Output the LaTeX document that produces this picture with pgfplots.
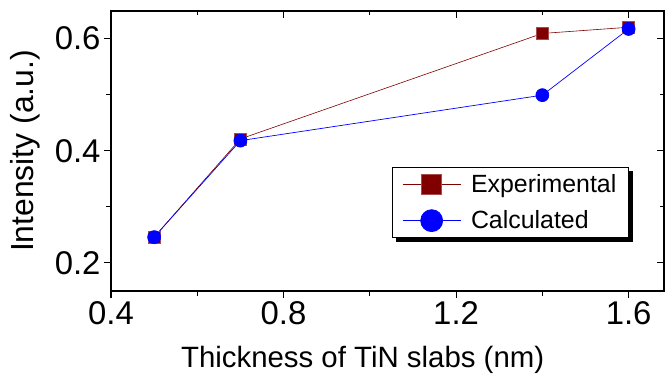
\documentclass[border=0pt]{standalone}
\usepackage{pgfplots}
\pgfplotsset{compat=1.18}
\usepackage{fontspec}
\setmainfont{Liberation Sans}
\usetikzlibrary{backgrounds}
\definecolor{expc}{RGB}{128,0,0}
\definecolor{calcc}{RGB}{0,0,255}
\begin{document}
\begin{tikzpicture}
\pgfplotsset{
  common/.style={
    scale only axis, width=553bp, height=280bp,
    at={(0,0)}, anchor=south west,
    xmin=0.4, xmax=1.682, ymin=0.15, ymax=0.649,
    xtick={0.4,0.8,1.2,1.6}, minor xtick={0.6,1.0,1.4},
    ytick={0.2,0.4,0.6}, minor ytick={0.3,0.5},
    axis line style={line width=1.1bp},
    major tick length=7bp, minor tick length=4.5bp,
    every tick/.style={line width=1.1bp, black},
    every minor tick/.style={line width=1.1bp, black},
  }
}
\begin{axis}[common,
  xtick pos=left, ytick pos=left, tick align=outside,
  /pgf/number format/assume math mode=true,
  /pgf/number format/fixed, /pgf/number format/precision=1, /pgf/number format/fixed zerofill,
  ticklabel style={font=\fontsize{33}{38}\selectfont},
  xlabel={Thickness of TiN slabs (nm)},
  ylabel={Intensity (a.u.)},
  xlabel style={font=\fontsize{29.5}{35}\selectfont, at={(axis description cs:0.455,-0.245)}, anchor=center},
  ylabel style={font=\fontsize{32}{38}\selectfont, at={(axis description cs:-0.155,0.5)}, anchor=center, rotate=0},
  legend cell align=left,
  legend style={at={(rel axis cs:0.508,0.443)}, anchor=north west, name=leg,
    draw=black, line width=0.8bp, fill=white,
    font=\fontsize{25}{28}\selectfont,
    inner xsep=10bp, inner ysep=5bp, row sep=13bp,
    /tikz/every odd column/.append style={column sep=8bp}},
  legend image code/.code={\draw[mark repeat=2,mark phase=2,#1] plot coordinates {(0bp,0bp) (29bp,0bp) (58bp,0bp)};},
]
\addplot[color=expc, line width=0.6bp, mark=square*, mark size=6bp,
  mark options={fill=expc, draw=expc!70!white, line width=0.5bp},
  legend image post style={mark size=10bp}]
  coordinates {(0.5,0.246) (0.7,0.421) (1.4,0.609) (1.6,0.620)};
\addlegendentry{Experimental}
\addplot[color=calcc, line width=0.7bp, mark=*, mark size=6.5bp,
  mark options={fill=calcc, draw=calcc},
  legend image post style={mark size=11bp}]
  coordinates {(0.5,0.246) (0.7,0.418) (1.4,0.499) (1.6,0.617)};
\addlegendentry{Calculated}
\end{axis}
\begin{axis}[common,
  xtick pos=right, ytick pos=right, tick align=inside,
  xticklabels={}, yticklabels={},
]
\end{axis}
\begin{scope}[on background layer]
\fill[black] ([xshift=4bp,yshift=-4.5bp]leg.south west) rectangle ([xshift=4bp,yshift=-4.5bp]leg.north east);
\end{scope}
\pgfresetboundingbox
\useasboundingbox (-111bp,-89bp) rectangle (554bp,291bp);
\end{tikzpicture}
\end{document}
